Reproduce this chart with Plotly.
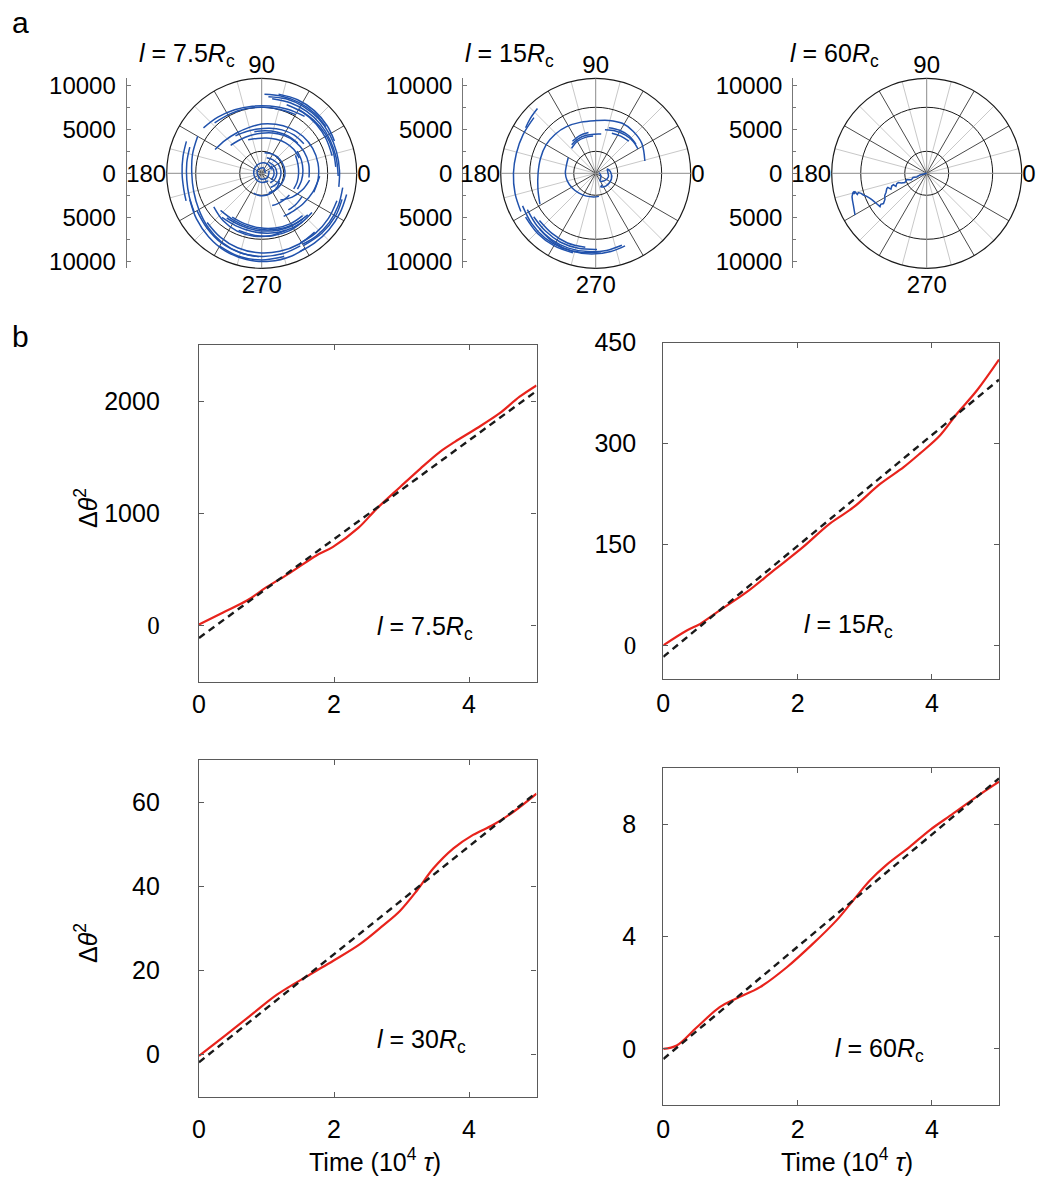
import plotly.graph_objects as go

W, H = 1044, 1179

# ---------------- panel b: angular mean-square displacement ----------------
time_l75 = [0, 0.35, 0.71, 1.0, 1.35, 1.74, 1.98, 2.36, 2.63, 2.98, 3.28, 3.57, 3.79, 4.11, 4.45, 4.75, 5.0]
msd_l75 = [10, 115, 223, 342, 470, 625, 699, 870, 1040, 1235, 1399, 1548, 1637, 1756, 1890, 2039, 2140]
fit_l75 = [-110, 2090]

time_l15 = [0, 0.35, 0.55, 0.84, 1.24, 1.64, 2.08, 2.48, 2.83, 3.23, 3.58, 3.82, 4.12, 4.37, 4.67, 5.0]
msd_l15 = [0, 22, 32, 52, 79, 111, 146, 181, 205, 240, 265, 285, 312, 344, 379, 425]
fit_l15 = [-17, 395]

time_l30 = [0, 0.41, 0.81, 1.16, 1.65, 1.99, 2.39, 2.73, 2.98, 3.23, 3.47, 3.77, 4.06, 4.36, 4.66, 5.0]
msd_l30 = [-0.3, 4.8, 9.9, 14.3, 19.1, 22.3, 26.3, 30.7, 34.2, 39.0, 44.2, 49.0, 52.2, 54.6, 57.7, 62.0]
fit_l30 = [-1.8, 62.3]

time_l60 = [0, 0.2, 0.5, 0.84, 1.08, 1.44, 1.84, 2.23, 2.58, 2.83, 3.08, 3.32, 3.67, 3.97, 4.32, 4.67, 5.0]
msd_l60 = [0, 0.12, 0.77, 1.49, 1.79, 2.2, 2.91, 3.75, 4.58, 5.3, 6.01, 6.55, 7.2, 7.8, 8.39, 8.99, 9.52]
fit_l60 = [-0.36, 9.64]

fit_time = [0, 5]

# ---------------- panel a: trajectories (angle in degrees, radius = time) ----------------
traj_theta_l75 = [
    [157, 168, 180, 192, 200],
    [150, 165, 180, 195, 210, 225, 240, 255, 268],
    [160, 172, 185, 198, 210],
    [200, 215, 230, 245, 260, 275, 290, 300],
    [210, 225, 240, 255, 270, 285, 298],
    [222, 237, 252, 268, 283, 298, 312],
    [240, 255, 270, 285],
    [346, 333, 320, 307, 296],
    [350, 337, 324, 311, 300],
    [340, 326, 312, 299],
    [342, 330, 315, 300],
    [85, 72, 58, 44, 30, 16, 2, -10],
    [82, 68, 54, 40, 26, 12, -2],
    [78, 64, 50, 36, 24],
    [88, 76, 62, 48, 36],
    [60, 46, 32, 18, 5],
    [70, 56, 42, 28, 14],
    [142, 128, 113, 98, 83, 68, 53],
    [133, 118, 103, 88, 73, 60],
    [153, 138, 122, 106, 90, 74, 58, 42, 26, 10, -6, -20],
    [138, 123, 107, 91, 75, 59, 43, 27, 11, -5],
    [125, 110, 95, 80, 65, 50, 35],
    [112, 97, 82, 67, 52, 37, 22],
    [100, 85, 70, 55, 40],
    [28, 14, 0, -14, -26],
    [32, 18, 4, -10, -24],
    [-30, -42, -54],
    [-38, -50, -62, -72],
    [-8, -22, -38, -55],
    [-3, -20, -36, -50, -63],
    [222, 238, 254, 270, 286, 302, 318],
    [228, 244, 260, 276, 292, 308, 322],
    [236, 252, 268, 284, 300, 314],
    [248, 264, 280, 296, 310],
    [215, 231, 247, 263, 279, 293],
    [232, 248, 264, 280, 296, 312],
    [72, 50, 28, 6, -16, -38, -58],
    [58, 36, 14, -8, -30, -48],
    [40, 15, -10, -35],
    [82, 60, 38, 16, -6, -28, -50, -70],
    [248, 266, 284, 302, 320, 336],
    [20, 60, 100, 140, 185, 230, 270, 310],
    [0, 70, 140, 200, 260, 320, 380],
]
traj_r_l75 = [
    [9300, 9150, 9050, 9050, 9150],
    [8400, 8150, 7950, 8000, 8250, 8650, 9050, 9350, 9500],
    [8700, 8600, 8550, 8650, 8850],
    [8700, 9050, 9400, 9750, 9950, 10050, 10000, 9850],
    [8500, 8800, 9150, 9350, 9450, 9450, 9350],
    [8350, 8650, 8900, 9050, 9100, 9100, 9000],
    [9550, 9800, 9850, 9800],
    [9950, 9980, 9980, 9950, 9900],
    [9350, 9450, 9500, 9450, 9300],
    [9100, 9150, 9150, 9050],
    [9600, 9700, 9650, 9500],
    [8750, 8900, 8950, 8950, 8900, 8850, 8850, 8900],
    [8550, 8650, 8700, 8700, 8650, 8650, 8700],
    [9200, 9300, 9300, 9200, 9050],
    [9000, 9050, 9100, 9100, 9000],
    [8400, 8450, 8500, 8500, 8450],
    [8300, 8350, 8350, 8300, 8250],
    [8400, 8100, 7850, 7700, 7700, 7850, 8100],
    [7850, 7650, 7550, 7500, 7550, 7700],
    [5950, 5600, 5400, 5400, 5600, 5800, 6050, 6300, 6450, 6500, 6450, 6300],
    [4750, 4550, 4500, 4550, 4750, 5000, 5250, 5400, 5450, 5400],
    [5200, 5050, 5050, 5200, 5450, 5700, 5850],
    [4100, 4000, 4050, 4200, 4400, 4550, 4600],
    [4800, 4850, 5000, 5200, 5350],
    [4350, 4250, 4200, 4150, 4050],
    [4750, 4750, 4700, 4600, 4450],
    [5300, 5250, 5150],
    [4000, 3950, 3900, 3850],
    [5500, 5000, 4400, 3700],
    [6600, 6200, 5850, 5600, 5500],
    [6300, 6200, 6250, 6400, 6600, 6850, 7050],
    [6750, 6650, 6700, 6850, 7050, 7200, 7250],
    [6000, 6050, 6200, 6400, 6600, 6700],
    [7000, 7100, 7200, 7250, 7200],
    [6650, 6950, 7150, 7200, 7150, 7000],
    [6450, 6400, 6500, 6650, 6850, 7000],
    [1850, 2000, 2150, 2200, 2150, 2050, 1900],
    [1500, 1600, 1700, 1700, 1600, 1450],
    [1350, 1400, 1400, 1300],
    [2350, 2500, 2600, 2650, 2650, 2550, 2450, 2350],
    [2450, 2550, 2550, 2450, 2350, 2200],
    [1200, 1250, 1150, 1000, 900, 950, 1050, 1150],
    [400, 650, 600, 500, 650, 800, 900],
]

traj_theta_l15 = [
    [132, 140, 147],
    [138, 152, 166, 180, 194, 207],
    [204, 218, 232, 246, 260, 274],
    [208, 222, 236, 250, 264, 278, 290],
    [212, 226, 240, 254],
    [215, 229, 243, 257, 271],
    [220, 234, 248, 262],
    [225, 239, 253, 267, 281, 292],
    [209, 195, 180, 165, 150, 136, 122, 106, 90, 76, 62, 48, 33, 14],
    [134, 120, 106, 94],
    [130, 117, 104, 92, 82],
    [126, 113, 100],
    [78, 65, 52, 40, 30],
    [74, 61, 48, 36],
    [68, 56, 44],
    [150, 165, 180, 195, 212, 230, 248, 265, 278],
    [10, -30, -60, -40, -15, 20, 5, -20, -50, -70, -60],
]
traj_r_l15 = [
    [9900, 9700, 9500],
    [9450, 9350, 9300, 9350, 9450, 9550],
    [9100, 9250, 9350, 9300, 9150, 8950],
    [8800, 8950, 9050, 9050, 8950, 8850, 8700],
    [9400, 9500, 9500, 9400],
    [8600, 8700, 8800, 8750, 8650],
    [8350, 8450, 8550, 8500],
    [9000, 9200, 9250, 9200, 9050, 8900],
    [7250, 6800, 6550, 6500, 6500, 6400, 6250, 6050, 5990, 6200, 6440, 6400, 6250, 5760],
    [3950, 4200, 4250, 4250],
    [4250, 4400, 4450, 4450, 4500],
    [4500, 4650, 4700],
    [5050, 5300, 5500, 5600, 5550],
    [5400, 5600, 5700, 5650],
    [4900, 5100, 5250],
    [3600, 3450, 3450, 3350, 3150, 2950, 2800, 2700, 2650],
    [400, 700, 1000, 1300, 1500, 1400, 1700, 1900, 1850, 1650, 1500],
]

traj_theta_l60 = [0, 194, 200, 197, 203, 199, 198, 203, 201, 198, 199, 203, 199, 200, 204, 200, 201,
                  205, 208, 212, 215, 214, 215.5, 211, 208, 206, 203.8, 201, 198.9, 197, 195.8, 197,
                  194, 196, 194.5, 195, 197.4, 200, 203.4, 207, 210.2]
traj_r_l60 = [0, 780, 1200, 1620, 1900, 2250, 2400, 2700, 3090, 3400, 3600, 3800, 4000, 4230, 4450, 4700, 4860,
              5100, 5400, 5600, 6000, 6300, 6520, 6670, 6800, 6900, 7040, 7300, 7610, 7800, 8075, 8250,
              8450, 8550, 8610, 8700, 8895, 8980, 9083, 9250, 9426]

polar_labels = ["<i>l</i> = 7.5<i>R</i><sub>c</sub>", "<i>l</i> = 15<i>R</i><sub>c</sub>", "<i>l</i> = 60<i>R</i><sub>c</sub>"]
time_scale_ticks = [-10000, -5000, 0, 5000, 10000]
time_scale_text = ["10000", "5000", "0", "5000", "10000"]
angle_ticks = [0, 90, 180, 270]
R_MAX = 10800

# ---------------- styling ----------------
SANS = "Liberation Sans, Arial, Helvetica, sans-serif"
FS = 24
FSB = 25
AXC = "#5a5a5a"
RED = "#e8231c"
BLUE = "#2152ac"


def fx(p):
    return p / W


def fy(p):
    return 1 - p / H


def join_arcs(parts):
    out = []
    for k, p in enumerate(parts):
        if k:
            out.append(None)
        out.extend(p)
    return out


fig = go.Figure()
layout = dict(
    width=W, height=H, margin=dict(l=0, r=0, t=0, b=0, pad=0, autoexpand=False),
    paper_bgcolor="white", plot_bgcolor="white", showlegend=False,
    font=dict(family=SANS, size=FS, color="black"),
)

# ---------- panel b subplots ----------
SERIF0 = '<span style="font-family:Liberation Serif">0</span>'
boxes = [
    # (x px left, right, y px top, bottom, yrange, ytickvals, yticktext, y standoff, x standoff)
    (199, 536.5, 345, 681.7, [-500, 2500], [0, 1000, 2000], [SERIF0, "1000", "2000"], 33, 0),
    (663.3, 999, 342.7, 679, [-50, 450], [0, 150, 300, 450], [SERIF0, "150", "300", "450"], 21, 2),
    (199, 536.5, 760, 1096.7, [-10, 70], [0, 20, 40, 60], ["0", "20", "40", "60"], 33, 10),
    (663.3, 999, 768.3, 1105, [-2, 10], [0, 4, 8], ["0", "4", "8"], 21, 2),
]
series = [
    (time_l75, msd_l75, fit_l75),
    (time_l15, msd_l15, fit_l15),
    (time_l30, msd_l30, fit_l30),
    (time_l60, msd_l60, fit_l60),
]
for i, (box, (t, m, f)) in enumerate(zip(boxes, series)):
    x0, x1, y0, y1, yr, ytv, ytt, ystand, xstand = box
    n = "" if i == 0 else str(i + 1)
    common = dict(showline=True, mirror="ticks", linecolor=AXC, linewidth=1.3,
                  ticks="inside", ticklen=5, tickcolor=AXC, tickwidth=1.3,
                  showgrid=False, zeroline=False, automargin=False,
                  tickfont=dict(family=SANS, size=FSB, color="black"))
    layout["xaxis" + n] = dict(domain=[fx(x0), fx(x1)], range=[0, 5], anchor="y" + n,
                               tickvals=[0, 2, 4], ticktext=["0", "2", "4"],
                               ticklabelstandoff=xstand, **common)
    layout["yaxis" + n] = dict(domain=[fy(y1), fy(y0)], range=yr, anchor="x" + n,
                               tickvals=ytv, ticktext=ytt,
                               ticklabelstandoff=ystand, **common)
    fig.add_trace(go.Scatter(x=t, y=m, mode="lines", xaxis="x" + n, yaxis="y" + n,
                             line=dict(color=RED, width=2.2, shape="spline"),
                             hoverinfo="skip"))
    fig.add_trace(go.Scatter(x=fit_time, y=f, mode="lines", xaxis="x" + n, yaxis="y" + n,
                             line=dict(color="#1a1a1a", width=2.4, dash="7px,5px"),
                             hoverinfo="skip"))

# ---------- panel a: polar trajectories ----------
centers = [261.7, 595.7, 926.7]
cy, rad = 173.3, 95
scale_x = [126.7, 463.3, 793.3]
trajs = [
    (join_arcs(traj_theta_l75), join_arcs(traj_r_l75), "spline"),
    (join_arcs(traj_theta_l15), join_arcs(traj_r_l15), "spline"),
    (traj_theta_l60, traj_r_l60, "linear"),
]
hidden_radial = dict(range=[0, R_MAX], showgrid=False, showticklabels=False,
                     showline=False, ticks="")
for i, cx in enumerate(centers):
    dom = dict(x=[fx(cx - rad), fx(cx + rad)], y=[fy(cy + rad), fy(cy - rad)])
    k = 3 * i
    light, dark, top = f"polar{k + 1 if k else ''}", f"polar{k + 2}", f"polar{k + 3}"
    # faint spokes every 30 deg, offset by 15
    layout[light] = dict(domain=dom, bgcolor="white",
                         radialaxis=hidden_radial,
                         angularaxis=dict(tickmode="linear", tick0=15, dtick=30,
                                          showgrid=True, gridcolor="#c8c8c8", gridwidth=1,
                                          showticklabels=False, showline=False, ticks=""))
    # darker spokes, time circles and rim
    layout[dark] = dict(domain=dom, bgcolor="rgba(0,0,0,0)",
                        radialaxis=dict(range=[0, R_MAX], tickvals=[2500, 7500], showgrid=True,
                                        gridcolor="#1a1a1a", gridwidth=1.1, showticklabels=False,
                                        showline=False, ticks=""),
                        angularaxis=dict(tickvals=[30, 60, 120, 150, 210, 240, 300, 330],
                                         showgrid=True, gridcolor="#4a4a4a", gridwidth=1,
                                         showticklabels=False, showline=True,
                                         linecolor="#1a1a1a", linewidth=1.2, ticks=""))
    # main axes, labels and data
    layout[top] = dict(domain=dom, bgcolor="rgba(0,0,0,0)",
                       radialaxis=hidden_radial,
                       angularaxis=dict(tickvals=angle_ticks, ticktext=[str(a) for a in angle_ticks],
                                        showgrid=True, gridcolor="#8c8c8c", gridwidth=1,
                                        showline=False, ticks="",
                                        tickfont=dict(family=SANS, size=FS, color="black")))
    fig.add_trace(go.Scatterpolar(r=[], theta=[], subplot=light))
    fig.add_trace(go.Scatterpolar(r=[], theta=[], subplot=dark))
    th, rr, shape = trajs[i]
    fig.add_trace(go.Scatterpolar(r=rr, theta=th, subplot=top, mode="lines", connectgaps=False,
                                  line=dict(color=BLUE, width=1.5, shape=shape),
                                  hoverinfo="skip"))
    # vertical time scale beside each polar plot
    n = str(5 + i)
    layout["xaxis" + n] = dict(domain=[fx(scale_x[i]), fx(scale_x[i] + 3)], range=[0, 1],
                               visible=False, anchor="y" + n, automargin=False)
    layout["yaxis" + n] = dict(domain=[fy(cy + rad), fy(cy - rad)], range=[-R_MAX, R_MAX],
                               anchor="x" + n, tickvals=time_scale_ticks, ticktext=time_scale_text,
                               ticks="inside", ticklen=4, tickcolor="#777777", tickwidth=1,
                               minor=dict(tickvals=[-7500, -2500, 2500, 7500], ticks="inside",
                                          ticklen=3, tickcolor="#777777"),
                               showline=True, linecolor="#777777", linewidth=1.2,
                               showgrid=False, zeroline=False, ticklabelstandoff=5, automargin=False,
                               tickfont=dict(family=SANS, size=FS, color="black"))
    fig.add_trace(go.Scatter(x=[], y=[], xaxis="x" + n, yaxis="y" + n))

# ---------- text ----------
ann = []


def text(x, y, s, size=FSB, xanchor="left", yanchor="middle", angle=0):
    ann.append(dict(x=fx(x), y=fy(y), xref="paper", yref="paper", text=s, showarrow=False,
                    xanchor=xanchor, yanchor=yanchor, textangle=angle,
                    font=dict(family=SANS, size=size, color="black")))


text(10, 22, "a", size=30)
text(10, 337, "b", size=30)
for cxl, lab in zip([136.7, 463, 788], polar_labels):
    text(cxl, 55, lab)
text(375, 628, "<i>l</i> = 7.5<i>R</i><sub>c</sub>")
text(801.7, 626, "<i>l</i> = 15<i>R</i><sub>c</sub>")
text(375, 1041, "<i>l</i> = 30<i>R</i><sub>c</sub>")
text(833, 1050, "<i>l</i> = 60<i>R</i><sub>c</sub>")
text(86, 508, "Δ<i>θ</i><sup>2</sup>", xanchor="center", angle=-90)
text(86, 943, "Δ<i>θ</i><sup>2</sup>", xanchor="center", angle=-90)
text(375, 1160, "Time (10<sup>4</sup> <i>τ</i>)", xanchor="center")
text(846.7, 1160, "Time (10<sup>4</sup> <i>τ</i>)", xanchor="center")
layout["annotations"] = ann

fig.update_layout(**layout)
# the figure is sized to the window, so drop the default page margin
fig.write_html("out.html", post_script="document.body.style.margin='0px';")
